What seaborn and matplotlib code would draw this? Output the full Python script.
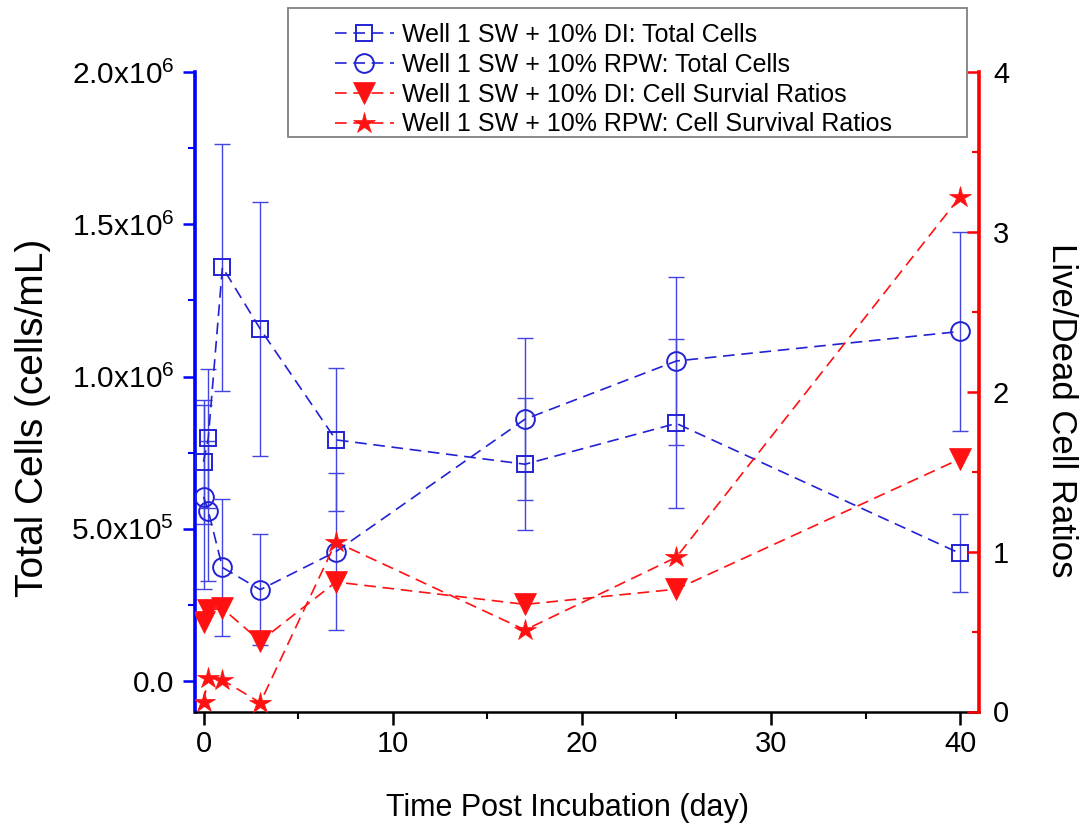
import numpy as np
import pandas as pd
import matplotlib
matplotlib.use("Agg")
import matplotlib.pyplot as plt
import seaborn as sns
from matplotlib.ticker import MultipleLocator, FuncFormatter
from matplotlib.patches import Rectangle

# ---------------- data ----------------
days = [0, 0.25, 1, 3, 7, 17, 25, 40]

total_di = [0.720e6, 0.797e6, 1.359e6, 1.156e6, 0.792e6, 0.712e6, 0.846e6, 0.419e6]
total_di_err = [0.203e6, 0.228e6, 0.405e6, 0.418e6, 0.235e6, 0.217e6, 0.278e6, 0.128e6]

total_rpw = [0.605e6, 0.559e6, 0.373e6, 0.300e6, 0.425e6, 0.860e6, 1.051e6, 1.148e6]
total_rpw_err = [0.302e6, 0.229e6, 0.225e6, 0.182e6, 0.258e6, 0.265e6, 0.275e6, 0.327e6]

ratio_di = [0.56, 0.634, 0.645, 0.44, 0.81, 0.67, 0.765, 1.58]
ratio_rpw = [0.061, 0.21, 0.197, 0.055, 1.06, 0.51, 0.965, 3.22]

labels = [
    "Well 1 SW + 10% DI: Total Cells",
    "Well 1 SW + 10% RPW: Total Cells",
    "Well 1 SW + 10% DI: Cell Survial Ratios",
    "Well 1 SW + 10% RPW: Cell Survival Ratios",
]

# ---------------- style ----------------
sns.set_style("ticks")
plt.rcParams["font.family"] = ["Liberation Sans", "DejaVu Sans"]
plt.rcParams["mathtext.fontset"] = "custom"
plt.rcParams["mathtext.rm"] = "Liberation Sans"
plt.rcParams["mathtext.it"] = "Liberation Sans:italic"
plt.rcParams["mathtext.bf"] = "Liberation Sans:bold"
plt.rcParams["text.color"] = "black"
plt.rcParams["axes.labelcolor"] = "black"
plt.rcParams["xtick.labelcolor"] = "black"
plt.rcParams["ytick.labelcolor"] = "black"

BLUE = "#2222D4"
EBLUE = "#4444E0"
RED = "#FF1111"
DASH = (0, (7, 4))

W, H = 1083, 824
fig = plt.figure(figsize=(W / 100, H / 100), dpi=100)
ax = fig.add_axes([195 / W, 1 - 711.5 / H, (979 - 195) / W, (711.5 - 72) / H])
ax2 = ax.twinx()

# error bars (blue series)
ax.errorbar(days, total_di, yerr=total_di_err, fmt="none", ecolor=EBLUE,
            elinewidth=1.0, capsize=6, capthick=1.0, zorder=2)
ax.errorbar(days, total_rpw, yerr=total_rpw_err, fmt="none", ecolor=EBLUE,
            elinewidth=1.0, capsize=6, capthick=1.0, zorder=2)

# lines + markers
sns.lineplot(x=days, y=total_di, ax=ax, color=BLUE, marker="s", markersize=12,
             markerfacecolor="none", markeredgecolor=BLUE, markeredgewidth=1.4,
             linestyle=DASH, linewidth=1.2, label=labels[0], zorder=3)
sns.lineplot(x=days, y=total_rpw, ax=ax, color=BLUE, marker="o", markersize=13.5,
             markerfacecolor="none", markeredgecolor=BLUE, markeredgewidth=1.4,
             linestyle=DASH, linewidth=1.2, label=labels[1], zorder=3)
sns.lineplot(x=days, y=ratio_di, ax=ax2, color=RED, marker="v", markersize=16,
             markerfacecolor=RED, markeredgecolor=RED, markeredgewidth=0.5,
             linestyle=DASH, linewidth=1.2, label=labels[2], zorder=3)
sns.lineplot(x=days, y=ratio_rpw, ax=ax2, color=RED, marker="*", markersize=16,
             markerfacecolor=RED, markeredgecolor=RED, markeredgewidth=0.5,
             linestyle=DASH, linewidth=1.2, label=labels[3], zorder=3)

for a in (ax, ax2):
    lg = a.get_legend()
    if lg is not None:
        lg.remove()

# ---------------- axes ----------------
ax.set_xlim(-0.45, 41.0)
ax.set_ylim(-1e5, 2e6)
ax2.set_ylim(0, 4)

ax.xaxis.set_major_locator(MultipleLocator(10))
ax.xaxis.set_minor_locator(MultipleLocator(5))
ax.yaxis.set_major_locator(MultipleLocator(5e5))
ax.yaxis.set_minor_locator(MultipleLocator(2.5e5))
ax2.yaxis.set_major_locator(MultipleLocator(1))
ax2.yaxis.set_minor_locator(MultipleLocator(0.5))


def sci_fmt(v, pos):
    if abs(v) < 1e-9:
        return "0.0"
    e = int(np.floor(np.log10(abs(v))))
    m = v / 10 ** e
    return rf"{m:.1f}x10$^{{{e}}}$"


ax.yaxis.set_major_formatter(FuncFormatter(sci_fmt))
ax2.yaxis.set_major_formatter(FuncFormatter(lambda v, p: f"{int(round(v))}"))

ax.tick_params(axis="x", which="major", direction="out", length=9, width=1.8,
               color="black", labelsize=21, pad=4, labelcolor="black")
ax.tick_params(axis="x", which="minor", direction="out", length=5, width=1.5,
               color="black")
ax.tick_params(axis="y", which="major", direction="out", length=9, width=1.8,
               color="#0000FF", labelsize=21.5, pad=6, labelcolor="black")
ax.tick_params(axis="y", which="minor", direction="out", length=5, width=1.5,
               color="#0000FF")
ax2.tick_params(axis="y", which="major", direction="in", length=9, width=1.8,
                color="#FF0000", labelsize=21, pad=10, labelcolor="black")
ax2.tick_params(axis="y", which="minor", direction="in", length=5, width=1.5,
                color="#FF0000")

for s in ("top", "right"):
    ax.spines[s].set_visible(False)
ax.spines["left"].set_color("#0000FF")
ax.spines["left"].set_linewidth(2.6)
ax.spines["bottom"].set_color("black")
ax.spines["bottom"].set_linewidth(1.8)
for s in ("top", "left", "bottom"):
    ax2.spines[s].set_visible(False)
ax2.spines["right"].set_color("#FF0000")
ax2.spines["right"].set_linewidth(2.6)

ax.set_xlabel("Time Post Incubation (day)", fontsize=22, color="black")
ax.xaxis.set_label_coords(0.4756, -0.128)
ax.set_ylabel("Total Cells (cells/mL)", fontsize=28, color="black")
ax.yaxis.set_label_coords(-0.1836, 0.459)
ax2.set_ylabel("Live/Dead Cell Ratios", fontsize=25, rotation=270, va="bottom",
               color="black")
ax2.yaxis.set_label_coords(1.084, 0.471)

# ---------------- legend ----------------
h1, l1 = ax.get_legend_handles_labels()
h2, l2 = ax2.get_legend_handles_labels()
fig.legend(h1 + h2, l1 + l2, loc="upper left",
           bbox_to_anchor=(335 / W, 1 - 23 / H), bbox_transform=fig.transFigure,
           frameon=False, fontsize=18, borderpad=0, borderaxespad=0,
           handlelength=2.35, handletextpad=0.33, labelspacing=0.23,
           numpoints=1, labelcolor="black")
fig.patches.append(Rectangle((288 / W, 1 - 137 / H), (967 - 288) / W, (137 - 8) / H,
                             transform=fig.transFigure, fill=False,
                             edgecolor="#808080", linewidth=1.3, zorder=10))

fig.savefig("out.png", dpi=100)
